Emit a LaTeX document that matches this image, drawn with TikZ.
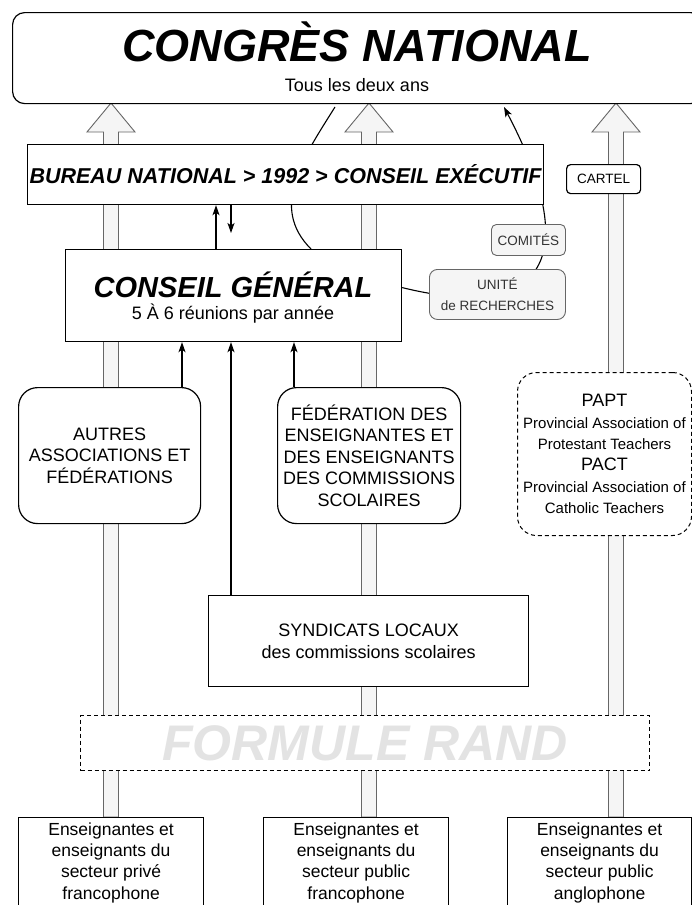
\documentclass[tikz,border=0pt]{standalone}
\usepackage{fontspec}
\setmainfont{Liberation Sans}
\usetikzlibrary{arrows.meta,calc,backgrounds}
\definecolor{fatfill}{HTML}{F5F5F5}
\definecolor{fatdraw}{HTML}{666666}
\definecolor{txtgray}{HTML}{333333}
\definecolor{randgray}{HTML}{E3E3E3}
\newcommand\fs[2]{\fontsize{#1}{#2}\selectfont}
\newcommand\fatarrow[2]{%
  \filldraw[fat] ({#1-7.5},#2) -- ({#1-7.5},132) -- ({#1-24},132) -- (#1,103)
    -- ({#1+24},132) -- ({#1+7.5},132) -- ({#1+7.5},#2) -- cycle;}
\begin{document}
\begin{tikzpicture}[x=1pt,y=-1pt,
  box/.style={draw=black, line width=1.2pt, fill=white, inner sep=0pt, align=center, anchor=north west},
  rbox/.style={box, rounded corners=19pt},
  dbox/.style={box, line width=1pt, dash pattern=on 4pt off 3pt},
  graybox/.style={draw=fatdraw, fill=fatfill, line width=0.9pt, rounded corners=5pt, text=txtgray,
                  inner sep=0pt, align=center, anchor=north west, font=\fs{13.5}{21}},
  lbl/.style={inner sep=0pt, align=center, anchor=base},
  arr/.style={line width=1.1pt, -{Stealth[length=10pt,width=7pt,inset=2.5pt]}},
  curve/.style={line width=1.1pt},
  fat/.style={draw=fatdraw, fill=fatfill, line width=0.9pt},
  big/.style={font=\fs{18}{21.5}}
]
\useasboundingbox (0,0) rectangle (692,905);

% column coordinates
\coordinate (x182) at (182,0);
\coordinate (x216) at (216,0);
\coordinate (x231) at (231,0);
\coordinate (x294) at (294,0);
\coordinate (x311) at (311,0);
\coordinate (downend) at (231,233);
\coordinate (cLend) at (335,107);
\coordinate (cRend) at (504,107);

% top
\node[box, rounded corners=12pt, minimum width=690, minimum height=91] (congres) at (12,12) {};
\node[lbl, font=\fs{45}{54}\bfseries\itshape] (congresT) at (357,61) {CONGRÈS NATIONAL};
\node[lbl, font=\fs{18}{21}] (congresS) at (357,91) {Tous les deux ans};

\node[box, minimum width=516, minimum height=60, font=\fs{21.5}{25}\bfseries\itshape] (bureau) at (27,144)
  {BUREAU NATIONAL > 1992 > CONSEIL EXÉCUTIF};

\node[box, rounded corners=4pt, minimum width=74, minimum height=29, font=\fs{13.5}{16}] (cartel) at (566,164) {CARTEL};
\node[graybox, minimum width=74, minimum height=31] (comites) at (491,224) {COMITÉS};
\node[graybox, rounded corners=8pt, minimum width=136, minimum height=50] (unite) at (429,269) {UNITÉ\\de RECHERCHES};

\node[box, minimum width=336, minimum height=92] (conseil) at (65,249) {};
\node[lbl, font=\fs{29}{34}\bfseries\itshape] (conseilT) at (233,297.5) {CONSEIL GÉNÉRAL};
\node[lbl, font=\fs{18}{21}] (conseilS) at (233,319.5) {5 À 6 réunions par année};

% middle
\node[rbox, big, minimum width=182, minimum height=136] (autres) at (18,387)
  {AUTRES\\ASSOCIATIONS ET\\FÉDÉRATIONS};
\node[rbox, big, minimum width=183, minimum height=136] (fed) at (277,387)
  {FÉDÉRATION DES\\ENSEIGNANTES ET\\DES ENSEIGNANTS\\DES COMMISSIONS\\SCOLAIRES};
\node[dbox, rounded corners=19pt, minimum width=174, minimum height=163, font=\fs{15}{21.3}] (papt) at (517,372)
  {{\fs{18}{21.3}PAPT}\\Provincial Association of\\Protestant Teachers\\{\fs{18}{21.3}PACT}\\Provincial Association of\\Catholic Teachers};

\node[box, big, minimum width=320, minimum height=91] (synd) at (208,595)
  {SYNDICATS LOCAUX\\des commissions scolaires};

\node[dbox, minimum width=569, minimum height=55, text=randgray, font=\fs{50}{56}\bfseries\itshape] (rand) at (80,715)
  {FORMULE RAND};

% bottom
\node[box, font=\fs{17.5}{21.3}, minimum width=185, minimum height=90] (bl) at (18,817)
  {Enseignantes et\\enseignants du\\secteur privé\\francophone};
\node[box, font=\fs{17.5}{21.3}, minimum width=185, minimum height=90] (bm) at (263,817)
  {Enseignantes et\\enseignants du\\secteur public\\francophone};
\node[box, font=\fs{17.5}{21.3}, minimum width=184, minimum height=90] (br) at (507,817)
  {Enseignantes et\\enseignants du\\secteur public\\anglophone};

% background: fat arrows and curves
\begin{scope}[on background layer]
  \fatarrow{111}{817}
  \fatarrow{369}{817}
  \fatarrow{616}{817}
  \draw[curve] (conseil.north -| x311) .. controls (269,207) and (303,158) .. (cLend);
  \draw[curve, arr] ($(conseil.east)+(0,-8)$) .. controls (546,323) and (583,257) .. (cRend);
\end{scope}

% small arrows
\draw[arr] (conseil.north -| x216) -- (bureau.south -| x216);
\draw[arr] (bureau.south -| x231) -- (downend);
\draw[arr] (autres.north -| x182) -- (conseil.south -| x182);
\draw[arr] (synd.north -| x231) -- (conseil.south -| x231);
\draw[arr] (fed.north -| x294) -- (conseil.south -| x294);
\end{tikzpicture}
\end{document}
